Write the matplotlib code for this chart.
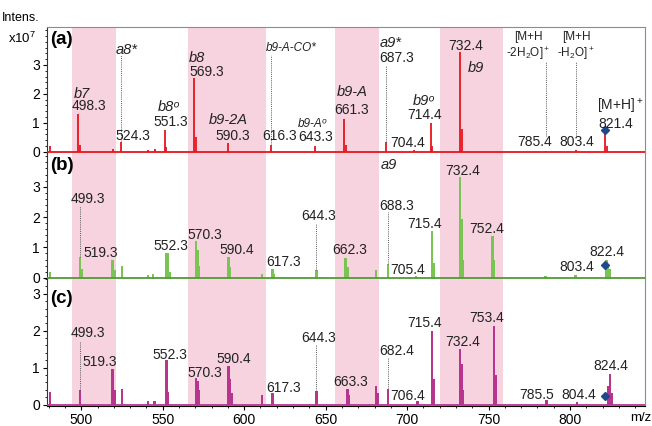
import matplotlib
matplotlib.use("Agg")
import matplotlib.pyplot as plt
from matplotlib.ticker import MultipleLocator

plt.rcParams["font.family"] = ["Liberation Sans", "DejaVu Sans"]
plt.rcParams["mathtext.fontset"] = "custom"
plt.rcParams["mathtext.rm"] = "Liberation Sans"
plt.rcParams["mathtext.it"] = "Liberation Sans:italic"

# peak lists (m/z, intensity x1e7)
a_mz = [481.0, 498.3, 499.3, 519.5, 524.3, 541.2, 545.4, 551.3, 552.3, 569.3, 570.3,
        590.3, 616.3, 643.3, 661.3, 662.3, 687.3, 704.4, 714.4, 715.4, 732.4, 733.4,
        785.4, 803.4, 821.4, 822.4]
a_int = [0.2, 1.3, 0.25, 0.1, 0.33, 0.08, 0.1, 0.75, 0.15, 2.55, 0.5,
         0.3, 0.25, 0.2, 1.13, 0.25, 0.35, 0.05, 0.98, 0.2, 3.46, 0.8,
         0.03, 0.05, 0.73, 0.2]

b_mz = [481.0, 499.3, 500.3, 519.3, 520.3, 525.0, 541.0, 544.0, 552.3, 553.3, 554.3,
        570.3, 571.3, 572.3, 590.4, 591.4, 611.0, 617.3, 618.3, 644.3, 662.3, 663.3,
        681.0, 688.3, 705.4, 715.4, 716.4, 732.4, 733.4, 734.4, 752.4, 753.4, 785.0,
        803.4, 822.4, 823.4, 824.4]
b_int = [0.2, 0.69, 0.3, 0.57, 0.25, 0.38, 0.1, 0.12, 0.82, 0.8, 0.2,
         1.2, 0.9, 0.4, 0.69, 0.35, 0.12, 0.3, 0.12, 0.25, 0.66, 0.35,
         0.27, 0.46, 0.05, 1.53, 0.5, 3.33, 1.95, 0.6, 1.39, 0.6, 0.05,
         0.1, 0.6, 0.45, 0.3]

c_mz = [481.0, 499.3, 519.3, 520.3, 525.0, 541.0, 545.0, 552.3, 553.3, 570.3, 571.3,
        572.3, 590.4, 591.4, 592.4, 611.0, 617.3, 644.3, 663.3, 664.3, 681.0, 682.0,
        688.3, 706.4, 715.4, 716.4, 732.4, 733.4, 734.4, 753.4, 754.4, 785.5, 804.4,
        823.4, 824.4, 825.4]
c_int = [0.34, 0.4, 0.97, 0.4, 0.43, 0.1, 0.1, 1.2, 0.35, 0.72, 0.65,
         0.4, 1.05, 0.7, 0.3, 0.25, 0.3, 0.36, 0.41, 0.25, 0.5, 0.3,
         0.43, 0.1, 2.0, 0.7, 1.51, 1.1, 0.4, 2.14, 0.8, 0.12, 0.07,
         0.5, 0.84, 0.3]

# precursor marker (m/z, intensity) per panel
prec_mz = [821.4, 821.4, 821.4]
prec_int = [0.75, 0.41, 0.22]

bands = [(494.1, 521.3), (565.6, 613.6), (655.5, 683.0), (720.2, 759.0)]

# dotted leader lines: (m/z, peak top, line top)
a_lead = [(524.3, 0.33, 3.34), (616.3, 0.25, 3.34), (687.3, 0.35, 3.0),
          (785.4, 0.55, 3.1), (803.4, 0.55, 3.1)]
b_lead = [(499.3, 0.69, 2.37), (644.3, 0.25, 1.81), (688.3, 0.46, 2.18)]
c_lead = [(499.3, 0.4, 1.7), (644.3, 0.36, 1.62), (688.3, 0.43, 1.3)]

# labels: (text, x, y, kind)
a_labels = [
    ("b7", 500.4, 2.01, "ion"), ("498.3", 504.7, 1.57, "num"),
    ("a8*", 528.0, 3.52, "ion"), ("524.3", 531.7, 0.55, "num"),
    ("b8\u1d52", 553.8, 1.54, "ion"), ("551.3", 555.0, 1.02, "num"),
    ("b8", 570.9, 3.24, "ion"), ("569.3", 577.0, 2.76, "num"),
    ("b9-2A", 590.5, 1.09, "ion"), ("590.3", 593.0, 0.55, "num"),
    ("b9-A-CO*", 629.1, 3.58, "ion_s"), ("616.3", 621.8, 0.55, "num"),
    ("b9-A\u1d52", 642.0, 0.96, "ion_s"), ("643.3", 643.8, 0.51, "num"),
    ("b9-A", 666.5, 2.08, "ion"), ("661.3", 665.9, 1.43, "num"),
    ("a9*", 689.8, 3.75, "ion"), ("687.3", 693.5, 3.24, "num"),
    ("b9\u1d52", 710.0, 1.74, "ion"), ("714.4", 710.6, 1.26, "num"),
    ("704.4", 700.2, 0.31, "num"),
    ("732.4", 735.8, 3.65, "num"), ("b9", 742.5, 2.9, "ion"),
    ("[M+H", 774.3, 3.96, "small"), (r"-2H$_2$O]$^+$", 774.3, 3.38, "small"),
    ("[M+H", 803.8, 3.96, "small"), (r"-H$_2$O]$^+$", 803.8, 3.38, "small"),
    ("785.4", 778.0, 0.34, "num"), ("803.4", 804.4, 0.34, "num"),
    (r"[M+H]$^+$", 830.7, 1.58, "num"), ("821.4", 828.3, 0.96, "num"),
]
b_labels = [
    ("499.3", 504.0, 2.6, "num"), ("519.3", 511.9, 0.8, "num"),
    ("552.3", 555.0, 1.06, "num"), ("570.3", 575.8, 1.42, "num"),
    ("590.4", 595.3, 0.9, "num"), ("617.3", 624.0, 0.52, "num"),
    ("644.3", 645.4, 2.04, "num"), ("a9", 688.6, 3.71, "ion"),
    ("732.4", 734.0, 3.52, "num"), ("688.3", 693.5, 2.37, "num"),
    ("715.4", 710.6, 1.78, "num"), ("752.4", 748.6, 1.62, "num"),
    ("662.3", 664.7, 0.9, "num"), ("705.4", 700.2, 0.26, "num"),
    ("803.4", 804.4, 0.35, "num"), ("822.4", 822.8, 0.86, "num"),
]
c_labels = [
    ("499.3", 504.0, 1.95, "num"), ("519.3", 511.3, 1.16, "num"),
    ("552.3", 554.4, 1.35, "num"), ("570.3", 575.8, 0.86, "num"),
    ("590.4", 593.6, 1.22, "num"), ("617.3", 624.0, 0.46, "num"),
    ("644.3", 645.4, 1.81, "num"), ("715.4", 710.6, 2.2, "num"),
    ("753.4", 748.6, 2.35, "num"), ("732.4", 734.0, 1.68, "num"),
    ("682.4", 693.5, 1.46, "num"), ("663.3", 665.3, 0.62, "num"),
    ("706.4", 700.2, 0.24, "num"), ("785.5", 779.2, 0.27, "num"),
    ("804.4", 805.6, 0.27, "num"), ("824.4", 825.3, 1.05, "num"),
]

RED = "#e8141e"
GREEN = "#79c452"
GREEN_DARK = "#4f9a35"
MAGENTA = "#b7358f"
PINK = "#f7d3e0"
BLUE = "#1d4a8a"

XLIM = (479, 846)

fig = plt.figure(figsize=(6.52, 4.26), dpi=100)
left, width = 47 / 652, 598 / 652
ax_a = fig.add_axes([left, 1 - 153 / 426, width, 126 / 426])
ax_b = fig.add_axes([left, 1 - 279 / 426, width, 126 / 426])
ax_c = fig.add_axes([left, 1 - 406 / 426, width, 127 / 426])

panels = [
    (ax_a, a_mz, a_int, RED, RED, a_lead, a_labels, "(a)", (-0.04, 4.31), 0.897),
    (ax_b, b_mz, b_int, GREEN, GREEN_DARK, b_lead, b_labels, "(b)", (-0.04, 4.11), 0.897),
    (ax_c, c_mz, c_int, MAGENTA, MAGENTA, c_lead, c_labels, "(c)", (-0.04, 3.4), 0.85),
]

styles = {
    "num": dict(fontsize=10),
    "ion": dict(fontsize=10.5, fontstyle="italic"),
    "ion_s": dict(fontsize=8.5, fontstyle="italic"),
    "small": dict(fontsize=8.5),
}

for i, (ax, mz, inten, color, base_color, leads, labels, tag, ylim, tag_y) in enumerate(panels):
    for lo, hi in bands:
        ax.axvspan(lo, hi, color=PINK, lw=0, zorder=0)
    if i == 0:
        ax.vlines(mz, 0, inten, color=color, lw=1.3, zorder=2)
    else:
        ax.bar(mz, inten, width=1.5, color=color, lw=0, zorder=2)
    ax.axhline(0, color=base_color, lw=1.3, zorder=3)
    ax.plot(prec_mz[i], prec_int[i], marker="D", ms=4, color=BLUE, zorder=4)
    for x, y0, y1 in leads:
        ax.vlines(x, y0, y1, color="0.35", lw=0.7, linestyles=(0, (1, 1.2)), zorder=2)
    for text, x, y, kind in labels:
        ax.text(x, y, text, ha="center", va="center", color="#222222", zorder=5, **styles[kind])
    ax.text(0.005, tag_y, tag, transform=ax.transAxes, fontsize=13.5,
            fontweight="bold", ha="left", va="center")

    ax.set_xlim(*XLIM)
    ax.set_ylim(*ylim)
    ax.set_yticks([0, 1, 2, 3])
    ax.yaxis.set_minor_locator(MultipleLocator(0.2))
    ax.tick_params(axis="y", which="major", direction="out", length=3, labelsize=10, pad=2)
    ax.tick_params(axis="y", which="minor", direction="out", length=1.5)
    ax.spines["left"].set_color("0.2")
    ax.spines["right"].set_color("0.55")
    ax.spines["top"].set_visible(i == 0)
    ax.spines["top"].set_color("0.55")
    ax.spines["bottom"].set_visible(i == 2)
    ax.patch.set_alpha(0)
    if i < 2:
        ax.set_xticks([])

ax_c.xaxis.set_major_locator(MultipleLocator(50))
ax_c.xaxis.set_minor_locator(MultipleLocator(10))
ax_c.tick_params(axis="x", which="major", direction="out", length=3, labelsize=10, pad=2)
ax_c.tick_params(axis="x", which="minor", direction="out", length=1.5)

fig.text(2 / 652, 1 - 18 / 426, "Intens.", fontsize=9, ha="left", va="center")
fig.text(8 / 652, 1 - 38 / 426, r"x10$^7$", fontsize=9.5, ha="left", va="center")
fig.text(641 / 652, 1 - 418 / 426, "m/z", fontsize=9.5, ha="center", va="center")

fig.savefig("out.png", dpi=100)
